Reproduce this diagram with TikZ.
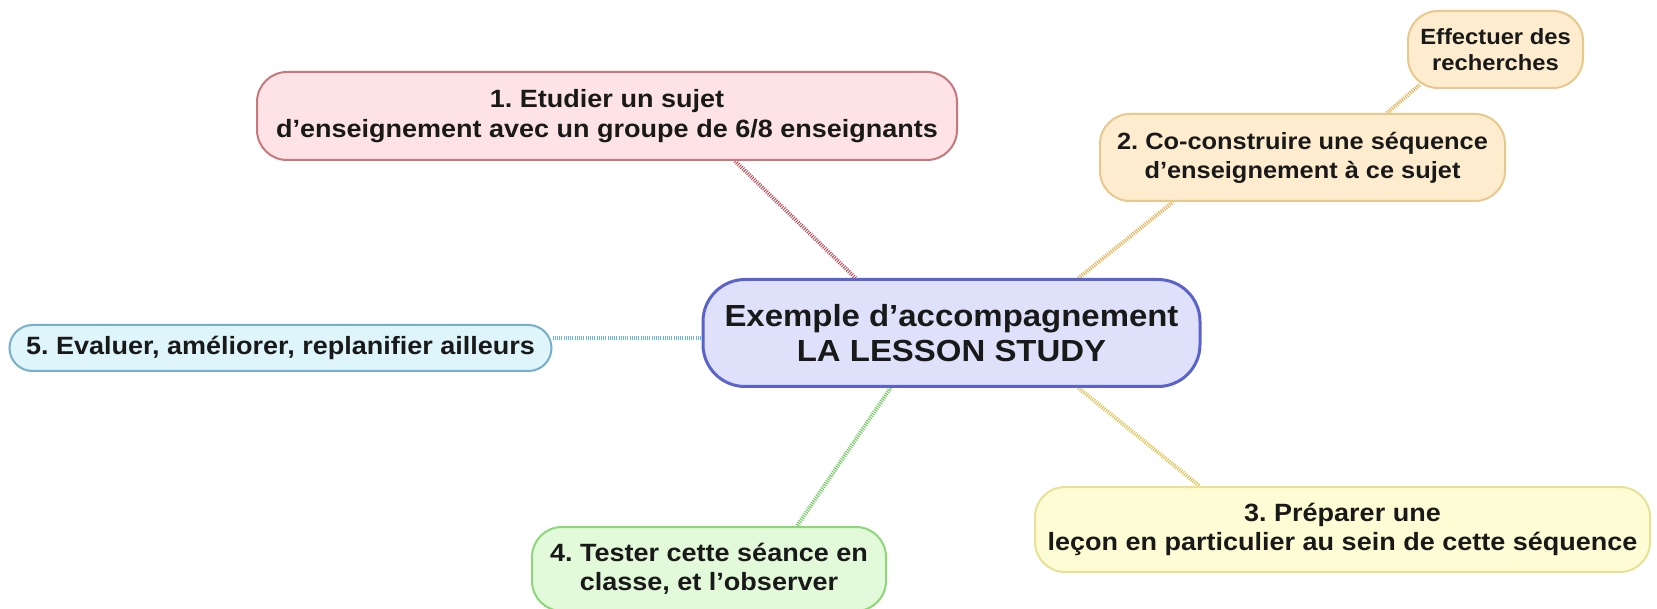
\documentclass[tikz,border=0pt]{standalone}
\usepackage{fontspec}
\setmainfont{Liberation Sans}[FakeStretch=1.08]
\usepackage{xcolor}
\usetikzlibrary{positioning,backgrounds}
\frenchspacing

\definecolor{centreFill}{HTML}{DFE1FB}
\definecolor{centreLine}{HTML}{5A63CC}
\definecolor{redFill}{HTML}{FDE3E5}
\definecolor{redLine}{HTML}{C8787D}
\definecolor{redDots}{HTML}{B8505A}
\definecolor{orangeFill}{HTML}{FDECCD}
\definecolor{orangeLine}{HTML}{E8C88C}
\definecolor{orangeDots}{HTML}{E8B050}
\definecolor{yellowFill}{HTML}{FEFCD4}
\definecolor{yellowLine}{HTML}{E8E196}
\definecolor{yellowDots}{HTML}{E0C050}
\definecolor{greenFill}{HTML}{E2F9DA}
\definecolor{greenLine}{HTML}{8CD778}
\definecolor{greenDots}{HTML}{70C860}
\definecolor{blueFill}{HTML}{DEF5FC}
\definecolor{blueLine}{HTML}{78AFC8}
\definecolor{blueDots}{HTML}{6AB8E0}

\begin{document}
\begin{tikzpicture}[x=1pt,y=1pt,
	bubble/.style={draw,line width=2pt,rounded corners=30pt,align=center,inner sep=0pt,
		text=black!90,font=\bfseries\fontsize{25}{29.5}\selectfont},
	branch/.style={line width=4pt,dash pattern=on 1pt off 1.2pt}]
	\useasboundingbox (0,0) rectangle (1657,-609);

	\node[bubble,fill=centreFill,draw=centreLine,line width=3pt,rounded corners=42pt,
		minimum width=497pt,minimum height=107pt,font=\bfseries\fontsize{30.5}{35}\selectfont]
		(centre) at (951.5,-333) {Exemple d’accompagnement\\LA LESSON STUDY};
	\node[bubble,fill=redFill,draw=redLine,minimum width=700pt,minimum height=88pt]
		(etudier) [above=117pt of centre,xshift=-344.5pt]
		{1. Etudier un sujet\\d’enseignement avec un groupe de 6/8 enseignants};
	\node[bubble,fill=orangeFill,draw=orangeLine,minimum width=405pt,minimum height=87pt,
		font=\bfseries\fontsize{23.5}{29}\selectfont]
		(construire) [above=76pt of centre,xshift=351pt]
		{2. Co-construire une séquence\\d’enseignement à ce sujet};
	\node[bubble,fill=orangeFill,draw=orangeLine,minimum width=175pt,minimum height=77pt,
		font=\bfseries\fontsize{22}{26}\selectfont]
		(effectuer) [above=24pt of construire,xshift=193pt] {Effectuer des\\recherches};
	\node[bubble,fill=yellowFill,draw=yellowLine,minimum width=615pt,minimum height=85pt]
		(preparer) [below=98pt of centre,xshift=391pt]
		{3. Préparer une\\leçon en particulier au sein de cette séquence};
	\node[bubble,fill=greenFill,draw=greenLine,minimum width=354pt,minimum height=84pt]
		(tester) [below=138pt of centre,xshift=-242.5pt]
		{4. Tester cette séance en\\classe, et l’observer};
	\node[bubble,fill=blueFill,draw=blueLine,rounded corners=23pt,minimum width=542pt,minimum height=46pt]
		(evaluer) [left=149pt of centre,yshift=-15pt] {5. Evaluer, améliorer, replanifier ailleurs};

	\begin{scope}[on background layer]
	\draw[branch,redDots] ([xshift=128pt]etudier.south) -- ([xshift=-96pt]centre.north);
	\draw[branch,orangeDots] ([xshift=127pt]centre.north) -- ([xshift=-129.5pt]construire.south);
	\draw[branch,orangeDots] ([xshift=84.5pt]construire.north) -- ([xshift=-76pt,yshift=4pt]effectuer.south);
	\draw[branch,yellowDots] ([xshift=127pt]centre.south) -- ([xshift=-143pt]preparer.north);
	\draw[branch,greenDots] ([xshift=-61pt]centre.south) -- ([xshift=88pt]tester.north);
	\draw[branch,blueDots] ([yshift=10pt]evaluer.east) -- ([yshift=10pt]evaluer.east -| centre.west);
	\end{scope}
\end{tikzpicture}
\end{document}
